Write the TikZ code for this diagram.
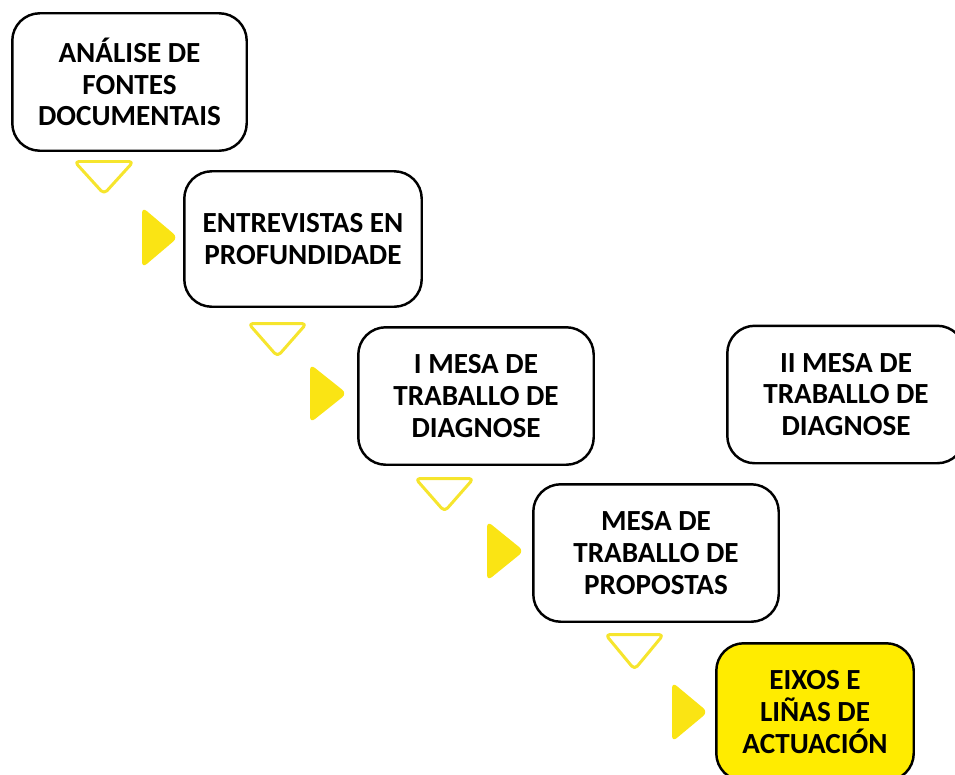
\documentclass[tikz,border=0pt]{standalone}
\usepackage{fontspec}
\setmainfont{Carlito}
\usepackage{tikz}
\usetikzlibrary{positioning,calc}
\usepackage{xcolor}

\definecolor{boxyellow}{RGB}{255,236,0}
\definecolor{triyellow}{RGB}{246,229,45}
\definecolor{arryellow}{RGB}{250,228,20}

\begin{document}
\begin{tikzpicture}[x=0.02cm, y=-0.02cm,
    stepbox/.style={draw, line width=1.4pt, rounded corners=0.55cm, align=center,
                    font=\fontsize{16.6}{18.1}\selectfont\bfseries, minimum height=2.75cm},
    downtri/.style={draw=triyellow, line width=1.7pt, rounded corners=2.5pt, line join=round},
    rightarr/.style={fill=arryellow, rounded corners=3.5pt}]

  % Frame
  \useasboundingbox (0,0) rectangle (955,774);
  \clip (0,0) rectangle (955,774);

  % Steps
  \node[stepbox, minimum width=4.69cm] (analise) at (129.5,82) {ANÁLISE DE\\FONTES\\DOCUMENTAIS};
  \node[stepbox, minimum width=4.75cm, minimum height=2.71cm] (entrevistas) at (303,239) {ENTREVISTAS EN\\PROFUNDIDADE};
  \node[stepbox, minimum width=4.71cm] (mesaI) at (476,396) {I MESA DE\\TRABALLO DE\\DIAGNOSE};
  \node[stepbox, minimum width=4.75cm] (mesaII) at (846,394.5) {II MESA DE\\TRABALLO DE\\DIAGNOSE};
  \node[stepbox, minimum width=4.91cm] (propostas) at (656,553) {MESA DE\\TRABALLO DE\\PROPOSTAS};
  \node[stepbox, minimum width=3.95cm, fill=boxyellow] (eixos) at (815,712) {EIXOS E\\LIÑAS DE\\ACTUACIÓN};

  % Down triangles
  \draw[downtri] (74.5,161.5) -- ++(59,0) -- ++(-29.5,32.5) -- cycle;
  \draw[downtri] (248.5,323.5) -- ++(58,0) -- ++(-29,33) -- cycle;
  \draw[downtri] (415.5,478.5) -- ++(58,0) -- ++(-29,33) -- cycle;
  \draw[downtri] (605.5,634.5) -- ++(58,0) -- ++(-29,35) -- cycle;

  % Right arrows
  \fill[rightarr] (142,207) -- ++(36,30.5) -- ++(-36,30.5) -- cycle;
  \fill[rightarr] (310,364) -- ++(37,29.5) -- ++(-37,29.5) -- cycle;
  \fill[rightarr] (487,521) -- ++(37,30) -- ++(-37,30) -- cycle;
  \fill[rightarr] (672,682) -- ++(36,30) -- ++(-36,30) -- cycle;

\end{tikzpicture}
\end{document}
